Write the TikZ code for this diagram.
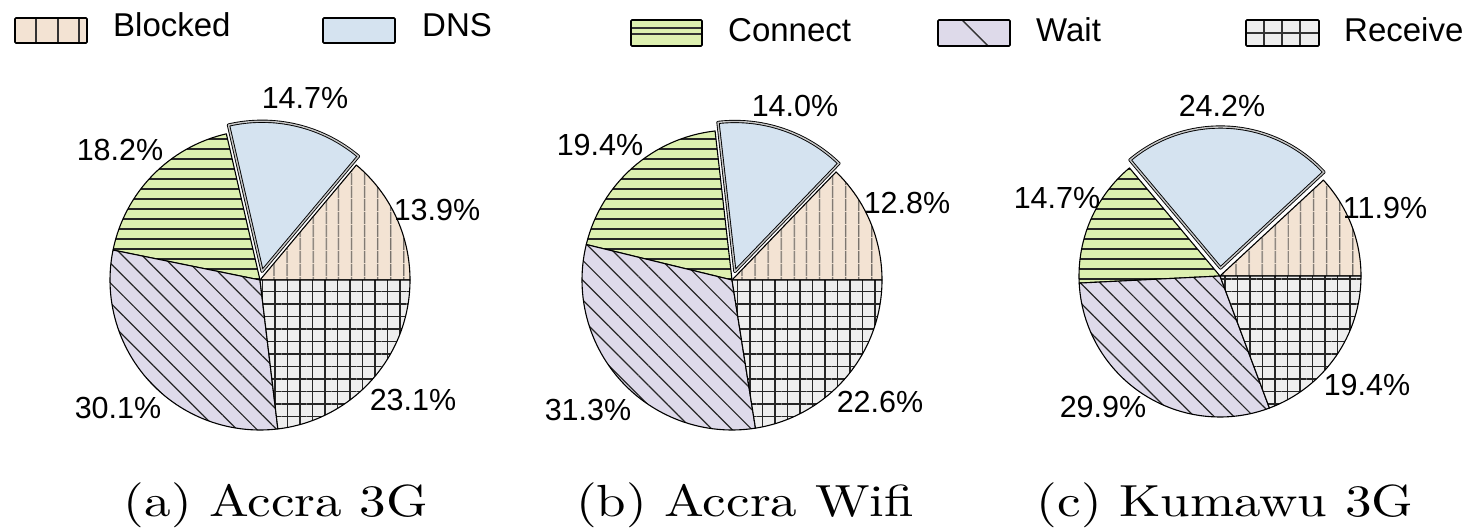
\documentclass[tikz,border=0pt]{standalone}
\usepackage{fontspec}
\setsansfont{Liberation Sans}
\newfontfamily\capfont[FakeStretch=1.18]{lmroman10-regular.otf}
\usetikzlibrary{patterns.meta,calc}
\definecolor{blockedc}{HTML}{F3E3D3}
\definecolor{dnsc}{HTML}{D5E3F0}
\definecolor{connectc}{HTML}{DDF0B0}
\definecolor{waitc}{HTML}{DEDAEA}
\definecolor{receivec}{HTML}{EEEEEE}
\newcommand{\pslice}[5]{\path[#5] (#1) -- ($(#1)+(#2:#4)$) arc[start angle=#2, end angle=#3, radius=#4] -- cycle;}
\begin{document}
\begin{tikzpicture}[x=1pt,y=-1pt,
  base/.style={draw=black, line width=1.1pt, line join=round},
  blk/.style={base, preaction={fill=blockedc}, pattern={Lines[angle=90,distance=13pt,line width=1.2pt]}, pattern color=black!85},
  dns/.style={draw=black, line width=0.9pt, double=gray!45, double distance=1.4pt, line join=round, fill=dnsc},
  con/.style={base, preaction={fill=connectc}, pattern={Lines[angle=0,distance=10pt,line width=1.9pt]}, pattern color=black!85},
  wai/.style={base, preaction={fill=waitc}, pattern={Lines[angle=-45,distance=14pt,line width=1.2pt]}, pattern color=black!85},
  rec/.style={base, preaction={fill=receivec}, pattern={Hatch[angle=0,distance=12.5pt,line width=1.3pt]}, pattern color=black!85},
  pct/.style={font=\sffamily\fontsize{30.5}{34}\selectfont, inner sep=0pt},
  legtext/.style={font=\sffamily\fontsize{33}{36}\selectfont, anchor=base west, inner sep=0pt},
  captext/.style={font=\capfont\fontsize{45}{50}\selectfont, anchor=base, inner sep=0pt},
  legbox/.style={draw=black, line width=1.6pt, rounded corners=1pt},
  legline/.style={draw=black!80, line width=1.4pt}
]
\useasboundingbox (0,0) rectangle (1473,529);

% ---------- legend ----------
\fill[blockedc] (15,18) rectangle (87,43);
\draw[legline] (36,18) -- (36,43) (58,18) -- (58,43) (79,18) -- (79,43);
\draw[legbox] (15,18) rectangle (87,43);
\node[legtext] (lblocked) at (113,37) {Blocked};

\fill[dnsc] (323,18) rectangle (395,43);
\draw[legbox] (323,18) rectangle (395,43);
\node[legtext] (ldns) at (422,37) {DNS};

\fill[connectc] (631,20) rectangle (702,46);
\draw[legline] (631,28) -- (702,28) (631,34) -- (702,34);
\draw[legbox] (631,20) rectangle (702,46);
\node[legtext] (lconnect) at (728,42) {Connect};

\fill[waitc] (938,20) rectangle (1010,46);
\draw[legline] (962,20) -- (988,46);
\draw[legbox] (938,20) rectangle (1010,46);
\node[legtext] (lwait) at (1036,42) {Wait};

\fill[receivec] (1246,20) rectangle (1319,46);
\draw[legline] (1264,20) -- (1264,46) (1282,20) -- (1282,46) (1300,20) -- (1300,46) (1246,33) -- (1319,33);
\draw[legbox] (1246,20) rectangle (1319,46);
\node[legtext] (lreceive) at (1344,42) {Receive};

% ---------- pie (a) ----------
\coordinate (ca) at (260,280);
\coordinate (cad) at ($(ca)+(76.5:9pt)$);
\pslice{ca}{0}{50.04}{150pt}{blk}
\pslice{ca}{102.96}{168.48}{150pt}{con}
\pslice{ca}{168.48}{276.84}{150pt}{wai}
\pslice{ca}{276.84}{360}{150pt}{rec}
\pslice{cad}{50.04}{102.96}{150pt}{dns}
\node[pct] (a-dns) at (305,98) {14.7\%};
\node[pct] (a-con) at (120,150) {18.2\%};
\node[pct] (a-blk) at (437,210) {13.9\%};
\node[pct] (a-rec) at (413,400) {23.1\%};
\node[pct] (a-wai) at (118,408) {30.1\%};
\node[captext] (capa) at (276,516) {(a) Accra 3G};

% ---------- pie (b) ----------
\coordinate (cb) at (732,280);
\coordinate (cbd) at ($(cb)+(71.28:9pt)$);
\pslice{cb}{0}{46.08}{150pt}{blk}
\pslice{cb}{96.48}{166.32}{150pt}{con}
\pslice{cb}{166.32}{279}{150pt}{wai}
\pslice{cb}{279}{360}{150pt}{rec}
\pslice{cbd}{46.08}{96.48}{150pt}{dns}
\node[pct] (b-dns) at (795,106) {14.0\%};
\node[pct] (b-con) at (600,145) {19.4\%};
\node[pct] (b-blk) at (907,203) {12.8\%};
\node[pct] (b-rec) at (880,402) {22.6\%};
\node[pct] (b-wai) at (588,410) {31.3\%};
\node[captext] (capb) at (745,516) {(b) Accra Wifi};

% ---------- pie (c) ----------
\coordinate (cc) at (1220,276);
\coordinate (ccd) at ($(cc)+(86.4:8pt)$);
\pslice{cc}{0}{42.84}{141pt}{blk}
\pslice{cc}{129.96}{182.88}{141pt}{con}
\pslice{cc}{182.88}{290.52}{141pt}{wai}
\pslice{cc}{290.52}{360}{141pt}{rec}
\pslice{ccd}{42.84}{129.96}{141pt}{dns}
\node[pct] (c-dns) at (1222,106) {24.2\%};
\node[pct] (c-con) at (1057,198) {14.7\%};
\node[pct] (c-blk) at (1385,208) {11.9\%};
\node[pct] (c-rec) at (1367,385) {19.4\%};
\node[pct] (c-wai) at (1103,407) {29.9\%};
\node[captext] (capc) at (1225,516) {(c) Kumawu 3G};
\end{tikzpicture}
\end{document}
